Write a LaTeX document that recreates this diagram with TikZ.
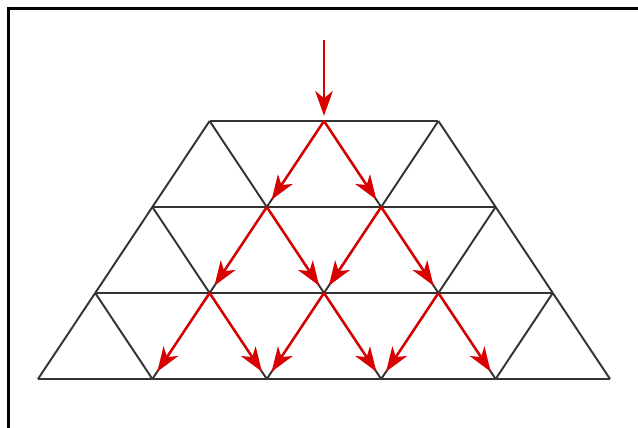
\documentclass[tikz,border=0pt]{standalone}
\usepackage{tikz}
\usetikzlibrary{arrows.meta}

\tikzset{
  grid/.style={black!80, line width=1.1pt},
  flow/.style={red!85!black, line width=1.4pt, -{Stealth[length=14pt,width=10pt,inset=4pt]}, shorten >=3pt},
}

\begin{document}
\begin{tikzpicture}[x=0.02cm, y=-0.02cm]
    \useasboundingbox (0,0) rectangle (638,428);
    \draw[line width=1.8pt] (8.5,428) -- (8.5,8.5) -- (638,8.5);
    % lattice points, row i has i+3 points
    \foreach \i in {0,...,3} {
      \pgfmathtruncatemacro{\last}{\i+2}
      \foreach \j in {0,...,\last}
        \coordinate (p-\i-\j) at ({209.6-57.2*\i+114.4*\j},{121+86*\i});
    }
    \coordinate (feed) at (p-0-1 |- 0,40);
    % rows
    \foreach \i/\last in {0/2,1/3,2/4,3/5}
      \draw[grid] (p-\i-0) -- (p-\i-\last);
    % slanted edges
    \foreach \i in {0,1,2} {
      \pgfmathtruncatemacro{\last}{\i+2}
      \pgfmathtruncatemacro{\next}{\i+1}
      \foreach \j in {0,...,\last} {
        \pgfmathtruncatemacro{\k}{\j+1}
        \draw[grid] (p-\i-\j) -- (p-\next-\j);
        \draw[grid] (p-\i-\j) -- (p-\next-\k);
      }
    }
    % red load paths
    \draw[flow] (feed) -- (p-0-1);
    \foreach \i/\j in {0/1,1/1,1/2,2/1,2/2,2/3} {
      \pgfmathtruncatemacro{\next}{\i+1}
      \pgfmathtruncatemacro{\k}{\j+1}
      \draw[flow, shorten >=5pt] (p-\i-\j) -- (p-\next-\j);
      \draw[flow, shorten >=5pt] (p-\i-\j) -- (p-\next-\k);
    }
\end{tikzpicture}
\end{document}
